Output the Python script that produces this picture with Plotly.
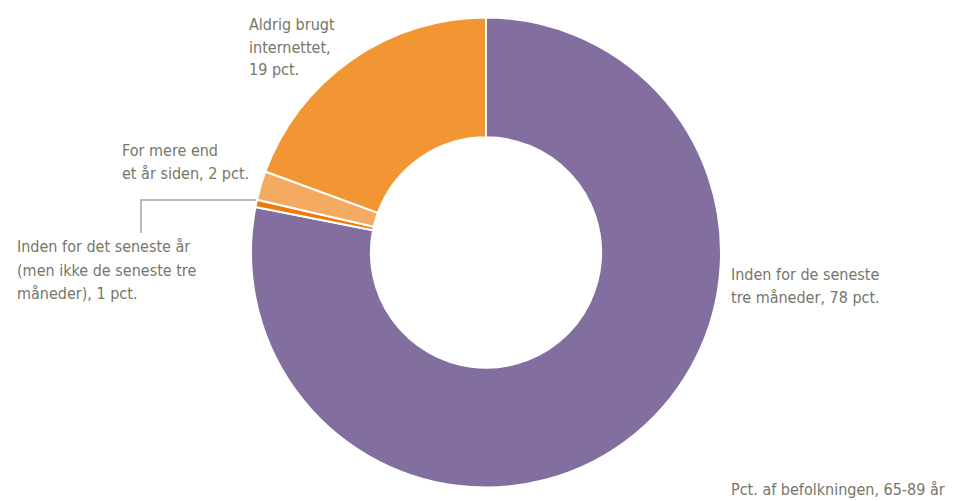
import plotly.graph_objects as go

categories = [
    "Inden for de seneste tre måneder",
    "Inden for det seneste år (men ikke de seneste tre måneder)",
    "For mere end et år siden",
    "Aldrig brugt internettet",
]
values = [78.1, 0.5, 2.0, 19.4]
colors = ["#836f9f", "#ee7a0a", "#f5aa62", "#f29633"]

label_lines = [
    ["Inden for de seneste", "tre måneder, 78 pct."],
    ["Inden for det seneste år", "(men ikke de seneste tre", "måneder), 1 pct."],
    ["For mere end", "et år siden, 2 pct."],
    ["Aldrig brugt", "internettet,", "19 pct."],
]
note = "Pct. af befolkningen, 65-89 år"

# The page body has an 8px margin; lay out in reference pixels and shift.
OFF = 8
W, H = 973 - OFF, 501 - OFF
FONT = "Liberation Sans Narrow, DejaVu Sans Condensed, Arial Narrow, sans-serif"
FS = 16
TXT = "#76766a"


def px(x):
    return (x - OFF) / W


def py(y):
    return 1 - (y - OFF) / H


fig = go.Figure(go.Pie(
    labels=categories,
    values=values,
    marker=dict(colors=colors, line=dict(color="white", width=2)),
    hole=0.49,
    sort=False,
    direction="clockwise",
    rotation=0,
    textinfo="none",
    hoverinfo="label+percent",
    showlegend=False,
    domain=dict(x=[px(251), px(721)], y=[py(488), py(17)]),
))

# (left x, first baseline y) in reference pixels, line step 23 px
label_pos = [(729, 280), (15, 253), (120, 157), (247, 30)]
STEP = 23
annotations = []
for lines, (x, yb) in zip(label_lines, label_pos):
    for i, ln in enumerate(lines):
        annotations.append(dict(
            text=ln, x=px(x), y=py(yb + i * STEP - 6), xref="paper", yref="paper",
            xanchor="left", yanchor="middle", align="left", showarrow=False,
            font=dict(family=FONT, size=FS, color=TXT),
        ))
annotations.append(dict(
    text=note, x=px(729), y=py(495 - 6), xref="paper", yref="paper",
    xanchor="left", yanchor="middle", align="left", showarrow=False,
    font=dict(family=FONT, size=FS, color=TXT),
))

shapes = [
    dict(type="path", xref="paper", yref="paper",
         path=f"M {px(256)},{py(200)} L {px(141)},{py(200)} L {px(141)},{py(233)}",
         line=dict(color="#a8a496", width=1.5)),
]

fig.update_layout(
    width=W, height=H,
    margin=dict(l=0, r=0, t=0, b=0),
    paper_bgcolor="white", plot_bgcolor="white",
    annotations=annotations, shapes=shapes,
    font=dict(family=FONT, color=TXT),
)

fig.write_html("out.html")
